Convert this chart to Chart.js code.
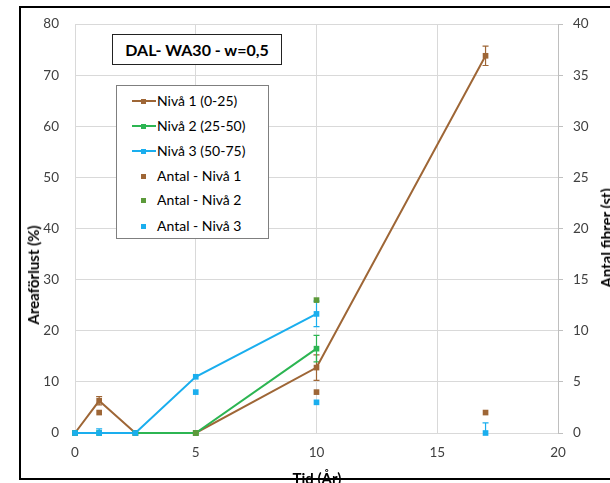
<!DOCTYPE html>
<html>
<head>
<meta charset="utf-8">
<script src="https://cdn.jsdelivr.net/npm/chart.js@4.4.1/dist/chart.umd.min.js"></script>
<style>
  html, body { margin: 0; padding: 0; background: #fff; }
  #wrap { position: relative; width: 610px; height: 483px; overflow: hidden; font-family: Lato, "Liberation Sans", sans-serif; }
  #chart { position: absolute; left: 0; top: 0; }
  .frame { position: absolute; left: 19px; top: 6px; width: 600px; height: 470px; border: 2px solid #000; z-index: 5; pointer-events: none; }
  .ttl { position: absolute; left: 112px; top: 34px; width: 168px; height: 29px; border: 1.5px solid #222; background: #fff;
         font-weight: bold; font-size: 16px; line-height: 29px; text-align: center; color: #000; white-space: nowrap; }
  .legend { position: absolute; left: 116px; top: 85px; width: 151px; height: 152px; border: 1px solid #7f7f7f; background: #fff; }
  .legend .row { position: absolute; left: 0; height: 20px; font-size: 14px; line-height: 20px; color: #000; white-space: nowrap; }
  .legend .ln { position: absolute; left: 15px; top: 9px; width: 24px; height: 2px; }
  .legend .mk { position: absolute; width: 5px; height: 5px; }
  .legend .tx { position: absolute; left: 40px; top: 0; }
  .axt { position: absolute; font-weight: bold; font-size: 15px; color: #000; white-space: nowrap; }
</style>
</head>
<body>
<div id="wrap">
  <canvas id="chart" width="610" height="483"></canvas>
  <div class="ttl">DAL- WA30 - w=0,5</div>
  <div class="legend" id="legend"></div>
  <div class="axt" style="left:33px; top:275px; transform:translate(-50%,-50%) rotate(-90deg);">Areaförlust (%)</div>
  <div class="axt" style="left:606px; top:238px; transform:translate(-50%,-50%) rotate(-90deg);">Antal fibrer (st)</div>
  <div class="axt" style="left:317px; top:478px; transform:translate(-50%,-50%);">Tid (År)</div>
  <div class="frame"></div>
</div>
<script>
// tid (år) och areaförlust (%) per nivå
const tidNiva1 = [0, 1, 2.5, 5, 10, 17];
const niva1 = [0, 6.3, 0, 0, 12.8, 73.8];
const niva1Err = [0, 0.8, 0, 0, 2.5, 1.9];

const tidNiva23 = [0, 1, 2.5, 5, 10];
const niva2 = [0, 0, 0, 0, 16.5];
const niva2Err = [0, 0, 0, 0, 2.6];
const niva3 = [0, 0, 0, 11, 23.3];
const niva3Err = [0, 0.8, 0, 0, 2.5];

// antal fibrer (st), höger axel
const tidAntal1 = [1, 10, 17];
const antal1 = [2, 4, 2];
const tidAntal2 = [5, 10];
const antal2 = [0, 13];
const tidAntal3 = [5, 10, 17];
const antal3 = [4, 3, 0];
const antal3Err = [0, 0, 1];

const labels = ['Nivå 1 (0-25)', 'Nivå 2 (25-50)', 'Nivå 3 (50-75)', 'Antal - Nivå 1', 'Antal - Nivå 2', 'Antal - Nivå 3'];
const xTicks = [0, 5, 10, 15, 20];

const brown = '#9e6636';
const green = '#2cb552';
const blue = '#1aaeee';
const darkGreen = '#5c9a3a';

function pts(xs, ys) {
    return xs.map((x, i) => ({ x: x, y: ys[i] }));
}

function lineSet(label, xs, ys, err, color, order) {
    return {
        label: label, data: pts(xs, ys), err: err, yAxisID: 'y', order: order, clip: 10,
        borderColor: color, backgroundColor: color, borderWidth: 2,
        pointStyle: 'rect', pointRadius: 4, pointBorderWidth: 0, showLine: true
    };
}

function antalSet(label, xs, ys, err, color) {
    return {
        label: label, data: pts(xs, ys), err: err, yAxisID: 'y2', order: 0, clip: 10,
        borderColor: color, backgroundColor: color, showLine: false,
        pointStyle: 'rect', pointRadius: 4, pointBorderWidth: 0
    };
}

// errorbars, drawn under the markers
const errorBars = {
    id: 'errorBars',
    beforeDatasetsDraw(chart) {
        const ctx = chart.ctx;
        const xs = chart.scales.x;
        chart.data.datasets.forEach(ds => {
            if (!ds.err) return;
            const ys = chart.scales[ds.yAxisID];
            ctx.save();
            ctx.strokeStyle = ds.borderColor;
            ctx.lineWidth = 1.2;
            ds.data.forEach((p, i) => {
                const e = ds.err[i];
                if (!e) return;
                const px = xs.getPixelForValue(p.x);
                const top = ys.getPixelForValue(p.y + e);
                const bot = ys.getPixelForValue(Math.max(p.y - e, 0));
                ctx.beginPath();
                ctx.moveTo(px, top); ctx.lineTo(px, bot);
                ctx.moveTo(px - 3, top); ctx.lineTo(px + 3, top);
                if (p.y - e >= 0) { ctx.moveTo(px - 3, bot); ctx.lineTo(px + 3, bot); }
                ctx.stroke();
            });
            ctx.restore();
        });
    }
};

const tickFont = { family: 'Lato', size: 13.5 };
const tickColor = '#404040';
const gridColor = '#d9d9d9';

new Chart(document.getElementById('chart'), {
    type: 'scatter',
    data: {
        datasets: [
            lineSet(labels[0], tidNiva1, niva1, niva1Err, brown, 3),
            lineSet(labels[1], tidNiva23, niva2, niva2Err, green, 2),
            lineSet(labels[2], tidNiva23, niva3, niva3Err, blue, 1),
            antalSet(labels[3], tidAntal1, antal1, null, brown),
            antalSet(labels[4], tidAntal2, antal2, null, darkGreen),
            antalSet(labels[5], tidAntal3, antal3, antal3Err, blue)
        ]
    },
    options: {
        responsive: false,
        animation: false,
        layout: { padding: { left: 20, top: 21, right: 0, bottom: 0 } },
        plugins: { legend: { display: false }, tooltip: { enabled: false } },
        scales: {
            x: {
                type: 'linear', min: 0, max: 20,
                afterBuildTicks: s => { s.ticks = xTicks.map(v => ({ value: v })); },
                afterFit: s => { s.height = 50; },
                grid: { color: gridColor, drawTicks: false },
                border: { display: false },
                ticks: { font: tickFont, color: tickColor, padding: 12 }
            },
            y: {
                position: 'left', min: 0, max: 80,
                afterFit: s => { s.width = 55; },
                grid: { color: gridColor, drawTicks: false },
                border: { display: false },
                ticks: { stepSize: 10, font: tickFont, color: tickColor, padding: 16 }
            },
            y2: {
                position: 'right', min: 0, max: 40,
                afterFit: s => { s.width = 52; },
                grid: { drawOnChartArea: false, color: '#bfbfbf', tickLength: 5 },
                border: { display: true, color: '#bfbfbf' },
                ticks: { stepSize: 5, font: tickFont, color: tickColor, padding: 10 }
            }
        }
    },
    plugins: [errorBars]
});

// legend inside the plot (HTML)
const legendColors = [brown, green, blue, brown, darkGreen, blue];
const legendTops = [5, 30, 55, 80, 104, 130];
const leg = document.getElementById('legend');
labels.forEach((lab, i) => {
    const row = document.createElement('div');
    row.className = 'row';
    row.style.top = legendTops[i] + 'px';
    row.style.width = '150px';
    let html = '';
    if (i < 3) {
        html += '<span class="ln" style="background:' + legendColors[i] + '"></span>';
    }
    html += '<span class="mk" style="left:24px; top:7.5px; background:' + legendColors[i] + '"></span>';
    html += '<span class="tx">' + lab + '</span>';
    row.innerHTML = html;
    leg.appendChild(row);
});
</script>
</body>
</html>
